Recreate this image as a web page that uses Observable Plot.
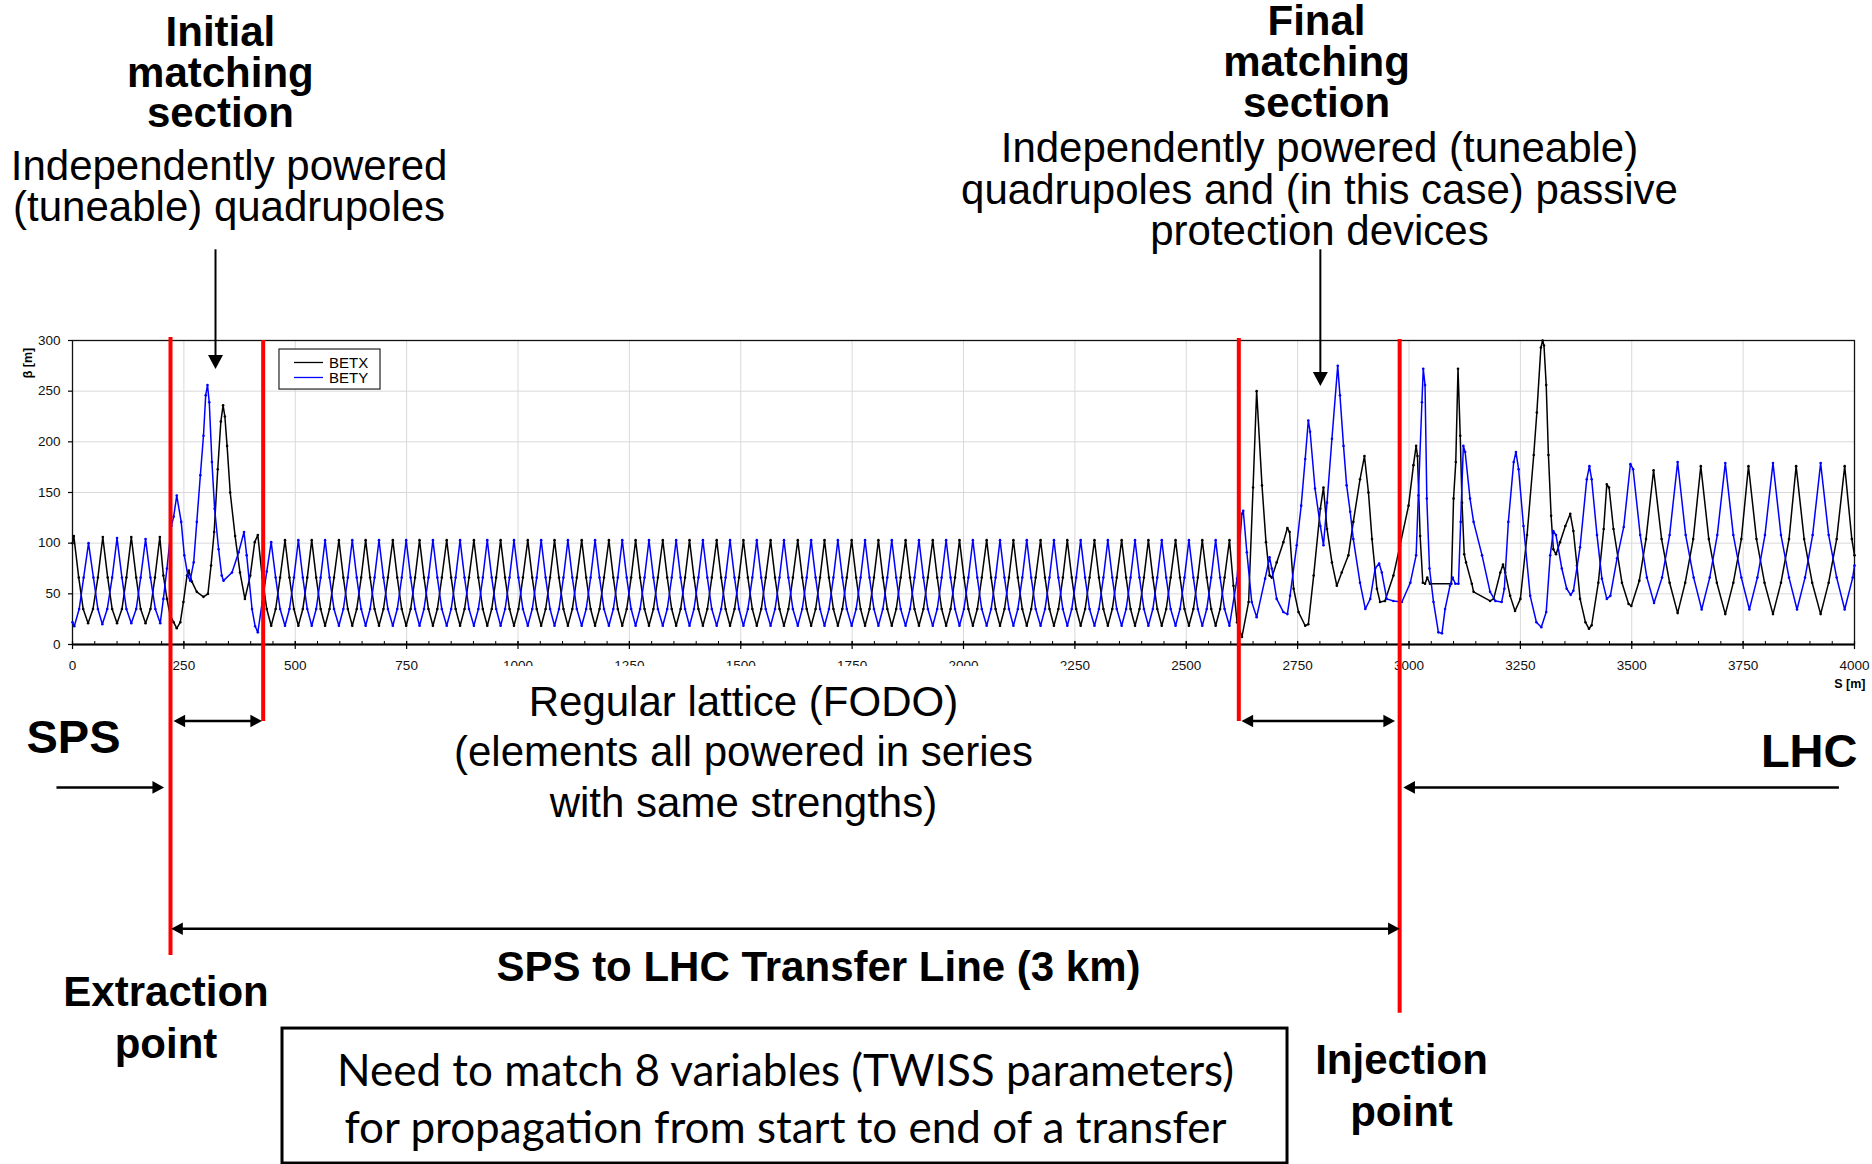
<!DOCTYPE html>
<html>
<head>
<meta charset="utf-8">
<script src="https://cdn.jsdelivr.net/npm/d3@7"></script>
<script src="https://cdn.jsdelivr.net/npm/@observablehq/plot@0.6"></script>
<style>
  html, body { margin: 0; padding: 0; background: #fff; }
  #chart svg { display: block; }
</style>
</head>
<body>
<div id="chart"></div>
<script>
// ---------------- axis ticks ----------------
const xTicks = [0, 250, 500, 750, 1000, 1250, 1500, 1750, 2000, 2250, 2500, 2750, 3000, 3250, 3500, 3750, 4000];
const yTicks = [0, 50, 100, 150, 200, 250, 300];

// ---------------- BETX: SPS side + initial matching section ----------------
const betxPreS = [0,3,14,24,35,46,57,68,79,89, 100,111,121,132,143,153,164,175,185,196,
  204,212,219,227,234,242,249,257,261,268, 279,294,304,311,318,326,333,338,342,347,
  354,365,376,387,399,409];
const betxPreV = [100,107,66,35,21,35,66,106,66,35, 21,35,66,106,66,35,21,35,66,106,
  68,45,29,22,16,22,42,68,73,62, 52,47,50,78,111,173,220,236,225,196,
  150,107,71,45,68,101];

// ---------------- BETY: SPS side + initial matching section ----------------
const betyPreS = [0,4,15,25,36,47,57,67,78,89, 100,111,121,132,143,153,164,175,186,197,
  204,212,222,227,234,244,251,259,264,272, 279,287,294,299,303,307,313,319,328,335,
  339,358,373,385,391,403,410];
const betyPreV = [22,18,35,66,100,66,35,20,35,66, 105,66,35,21,35,66,104,66,35,21,
  45,75,117,126,147,121,88,68,63,81, 121,167,206,246,256,239,180,134,94,68,
  63,71,91,111,88,35,18];

// ---------------- regular FODO lattice (shared s positions) ----------------
const fodoS = [
  416,426,436,446,456,466, 477,487,497,507,517,527, 537,547,557,567,577,587,
  598,608,618,628,638,648, 658,668,678,688,698,708, 719,729,739,749,759,769,
  779,789,799,809,819,829, 840,850,860,870,880,890, 901,911,921,931,941,951,
  961,971,981,991,1001,1011, 1022,1032,1042,1052,1062,1072, 1082,1092,1102,1112,1122,1132,
  1143,1153,1163,1173,1183,1193, 1204,1214,1224,1234,1244,1254, 1264,1274,1284,1294,1304,1314,
  1325,1335,1345,1355,1365,1375, 1385,1395,1405,1415,1425,1435, 1446,1456,1466,1476,1486,1496,
  1506,1516,1526,1536,1546,1556, 1567,1577,1587,1597,1607,1617, 1628,1638,1648,1658,1668,1678,
  1688,1698,1708,1718,1728,1738, 1749,1759,1769,1779,1789,1799, 1809,1819,1829,1839,1849,1859,
  1870,1880,1890,1900,1910,1920, 1931,1941,1951,1961,1971,1981, 1991,2001,2011,2021,2031,2041,
  2052,2062,2072,2082,2092,2102, 2112,2122,2132,2142,2152,2162, 2173,2183,2193,2203,2213,2223,
  2233,2243,2253,2263,2273,2283, 2294,2304,2314,2324,2334,2344, 2355,2365,2375,2385,2395,2405,
  2415,2425,2435,2445,2455,2465, 2476,2486,2496,2506,2516,2526, 2536,2546,2556,2566,2576,2586,
  2597];
const fodoBetx = [
  108,66,35,18.5,35,66, 103,66,35,18.5,35,66, 103,66,35,18.5,35,66,
  103,66,35,18.5,35,66, 103,66,35,18.5,35,66, 103,66,35,18.5,35,66,
  103,66,35,18.5,35,66, 103,66,35,18.5,35,66, 103,66,35,18.5,35,66,
  103,66,35,18.5,35,66, 103,66,35,18.5,35,66, 103,66,35,18.5,35,66,
  103,66,35,18.5,35,66, 103,66,35,18.5,35,66, 103,66,35,18.5,35,66,
  103,66,35,18.5,35,66, 103,66,35,18.5,35,66, 103,66,35,18.5,35,66,
  103,66,35,18.5,35,66, 103,66,35,18.5,35,66, 103,66,35,18.5,35,66,
  103,66,35,18.5,35,66, 103,66,35,18.5,35,66, 103,66,35,18.5,35,66,
  103,66,35,18.5,35,66, 103,66,35,18.5,35,66, 103,66,35,18.5,35,66,
  103,66,35,18.5,35,66, 103,66,35,18.5,35,66, 103,66,35,18.5,35,66,
  103,66,35,18.5,35,66, 103,66,35,18.5,35,66, 103,66,35,18.5,35,66,
  103,66,35,18.5,35,66, 103,66,35,18.5,35,66, 103,66,35,18.5,35,66,
  103];
const fodoBety = [
  12,42,72,101,66,35, 18.5,35,66,103,66,35, 18.5,35,66,103,66,35,
  18.5,35,66,103,66,35, 18.5,35,66,103,66,35, 18.5,35,66,103,66,35,
  18.5,35,66,103,66,35, 18.5,35,66,103,66,35, 18.5,35,66,103,66,35,
  18.5,35,66,103,66,35, 18.5,35,66,103,66,35, 18.5,35,66,103,66,35,
  18.5,35,66,103,66,35, 18.5,35,66,103,66,35, 18.5,35,66,103,66,35,
  18.5,35,66,103,66,35, 18.5,35,66,103,66,35, 18.5,35,66,103,66,35,
  18.5,35,66,103,66,35, 18.5,35,66,103,66,35, 18.5,35,66,103,66,35,
  18.5,35,66,103,66,35, 18.5,35,66,103,66,35, 18.5,35,66,103,66,35,
  18.5,35,66,103,66,35, 18.5,35,66,103,66,35, 18.5,35,66,103,66,35,
  18.5,35,66,103,66,35, 18.5,35,66,103,66,35, 18.5,35,66,103,66,35,
  18.5,35,66,103,66,35, 18.5,35,66,103,66,35, 18.5,35,66,103,66,35,
  18.5,35,66,103,66,35, 18.5,35,66,103,66,35, 18.5,35,66,103,66,35,
  18.5];

// ---------------- BETX: final matching section + LHC ----------------
const betxPostS = [2606,2614,2625,2640,2650,2658,2670,2679,2687,2692, 2703,2718,2727,2732,2741,2752,2767,2774,2786,2801,
  2808,2816,2827,2838,2849,2864,2875,2890,2900,2909, 2917,2928,2935,2946,2965,2980,2999,3010,3016,3019,
  3025,3031,3036,3041,3047,3095,3100,3105,3110,3115, 3119,3124,3128,3141,3145,3182,3190,3205,3211,3216,
  3227,3238,3250,3265,3280,3287,3296,3300,3303,3308, 3313,3319,3324,3330,3339,3351,3362,3369,3377,3384,
  3396,3404,3410,3425,3437,3444,3449,3459,3478,3493, 3499,3517,3532,3549,3567,3585,3603,3620,3638,3655,
  3673,3691,3710,3728,3746,3762,3780,3798,3817,3835, 3853,3869,3887,3905,3924,3942,3960,3978,3994,4000];
const betxPostV = [58,22,7.5,42,155,250,157,101,68,66, 81,101,115,111,55,32,18.5,20,68,134,
  155,114,81,58,71,88,121,163,186,150, 104,55,42,43,68,98,137,177,196,186,
  107,61,60,66,60,60,144,180,272,206, 140,89,81,60,52,43,45,71,79,71,
  48,33,45,108,187,229,293,300,295,256, 187,127,94,89,101,117,129,112,78,45,
  22,15.5,19,61,114,158,155,114,61,40, 38,63,104,172,104,61,31,61,104,176,
  104,61,30,61,104,176,104,61,30,61, 104,176,104,61,30,61,104,176,104,88];

// ---------------- BETY: final matching section + LHC ----------------
const betyPostS = [2614,2625,2628,2636,2647,2658,2677,2687,2692,2703, 2718,2727,2733,2748,2758,2767,2774,2778,2789,2801,
  2808,2816,2827,2840,2845,2853,2860,2868,2875,2890, 2902,2913,2924,2933,2939,2950,2965,2984,3003,3016,
  3021,3029,3032,3036,3040,3046,3055,3066,3074,3081, 3092,3098,3104,3111,3116,3122,3126,3137,3145,3164,
  3182,3194,3208,3214,3223,3235,3240,3246,3257,3272, 3286,3297,3308,3317,3324,3330,3343,3354,3363,3369,
  3384,3399,3405,3410,3422,3433,3444,3452,3467,3482, 3497,3503,3519,3534,3550,3568,3585,3603,3621,3639,
  3657,3675,3692,3710,3728,3746,3764,3782,3799,3817, 3835,3853,3871,3889,3906,3924,3942,3960,3978,3996, 4000];
const betyPostV = [65,129,132,91,42,27,65,86,75,45, 32,30,48,98,137,183,221,210,154,117,
  98,140,203,275,246,196,157,131,104,61, 35,45,75,80,71,45,43,42,61,88,
  147,239,272,256,144,75,42,12,11,35, 58,66,60,60,121,196,190,144,121,88,
  52,43,42,55,121,180,190,173,117,48, 22,17,32,88,112,108,75,55,49,53,
  96,163,176,163,108,65,45,48,85,116, 178,173,108,66,41,66,108,180,108,66,
  34.5,66,108,179,108,66,34.5,66,108,179, 108,66,34.5,66,108,179,108,66,34.5,66, 78];

// ---------------- build tables ----------------
const betxS = [...betxPreS, ...fodoS, ...betxPostS];
const betxV = [...betxPreV, ...fodoBetx, ...betxPostV];
const betyS = [...betyPreS, ...fodoS, ...betyPostS];
const betyV = [...betyPreV, ...fodoBety, ...betyPostV];
const betx = betxS.map((s, i) => ({s, beta: betxV[i]}));
const bety = betyS.map((s, i) => ({s, beta: betyV[i]}));

// ---------------- annotation geometry (in data units: s [m], beta [m]) ----------------
const FONT = "'Liberation Sans', Arial, Helvetica, sans-serif";
const FONT_BOX = "Lato, Carlito, 'Open Sans', sans-serif";
const RED = "#ff0000";
const BLUE = "#0000ff";

const redLines = [
  {s: 220, top: 303, bottom: -307},
  {s: 428, top: 300, bottom: -76},
  {s: 2618, top: 302, bottom: -76},
  {s: 2979, top: 301, bottom: -364}
];
const shafts = [
  {x1: 321, y1: 390, x2: 321, y2: 284, w: 2},
  {x1: 2801, y1: 390, x2: 2801, y2: 267, w: 2},
  {x1: 236, y1: -75.5, x2: 416, y2: -75.5, w: 2.5},
  {x1: 2633, y1: -75.5, x2: 2960, y2: -75.5, w: 2.5},
  {x1: -36, y1: -141, x2: 196, y2: -141, w: 2.5},
  {x1: 3965, y1: -141, x2: 2997, y2: -141, w: 2.5},
  {x1: 231, y1: -280.5, x2: 2970, y2: -280.5, w: 2.5}
];
const headsBig = [
  {s: 321, b: 271.9, a: 90},
  {s: 2801, b: 255.1, a: 90}
];
const headsSmall = [
  {s: 226.7, b: -75.5, a: 180}, {s: 425.4, b: -75.5, a: 0},
  {s: 2624, b: -75.5, a: 180}, {s: 2968.6, b: -75.5, a: 0},
  {s: 205.6, b: -141, a: 0}, {s: 2987.2, b: -141, a: 180},
  {s: 221.5, b: -280.5, a: 180}, {s: 2979.1, b: -280.5, a: 0}
];
const headSymbol = {
  draw(ctx, size) {
    const r = Math.sqrt(size / Math.PI);
    ctx.moveTo(0, 0);
    ctx.lineTo(-1.85 * r, -r);
    ctx.lineTo(-1.85 * r, r);
    ctx.closePath();
  }
};

function label(t, s, b, o) {
  return Plot.text([{t, s, b}], {x: "s", y: "b", text: "t", fontFamily: FONT, fill: "black", ...o});
}

const minorTicks = d3.range(0, 4001, 50);

const chart = Plot.plot({
  width: 1872,
  height: 1164,
  marginLeft: 72,
  marginRight: 18,
  marginTop: 340,
  marginBottom: 520,
  x: {domain: [0, 4000], axis: null},
  y: {domain: [0, 300], axis: null},
  style: {fontFamily: FONT, fontSize: "13px", background: "white", overflow: "visible", maxWidth: "none"},
  marks: [
    // grid
    Plot.ruleX(xTicks, {x: d => d, stroke: "#d9d9d9", strokeWidth: 1}),
    Plot.ruleY(yTicks, {y: d => d, stroke: "#d9d9d9", strokeWidth: 1}),
    Plot.frame({stroke: "#111", strokeWidth: 1.3}),
    // data
    Plot.line(betx, {x: "s", y: "beta", stroke: "black", strokeWidth: 1.5}),
    Plot.dot(betx, {x: "s", y: "beta", r: 1.3, fill: "black", stroke: "none"}),
    Plot.line(bety, {x: "s", y: "beta", stroke: BLUE, strokeWidth: 1.5}),
    Plot.dot(bety, {x: "s", y: "beta", r: 1.3, fill: BLUE, stroke: "none"}),
    // legend
    Plot.rect([{x1: 464.6, x2: 691.4, y1: 251.6, y2: 291.1}], {x1: "x1", x2: "x2", y1: "y1", y2: "y2", fill: "white", stroke: "#222", strokeWidth: 1.2}),
    Plot.ruleY([278.3], {y: d => d, x1: 498.3, x2: 563.4, stroke: "black", strokeWidth: 1.3}),
    Plot.ruleY([263.5], {y: d => d, x1: 498.3, x2: 563.4, stroke: BLUE, strokeWidth: 1.3}),
    label("BETX", 576, 273.1, {textAnchor: "start", lineAnchor: "bottom", fontSize: 15}),
    label("BETY", 576, 258.3, {textAnchor: "start", lineAnchor: "bottom", fontSize: 15}),
    // axes
    Plot.ruleY([0], {y: d => d, stroke: "black", strokeWidth: 2}),
    Plot.ruleX(minorTicks, {x: d => d, y1: 0, y2: 3, stroke: "black", strokeWidth: 1}),
    Plot.ruleX(xTicks, {x: d => d, y1: -5, y2: 3, stroke: "black", strokeWidth: 1.2}),
    Plot.ruleY(yTicks, {y: d => d, x1: -9, x2: 0, stroke: "black", strokeWidth: 1.2}),
    Plot.text(xTicks, {x: d => d, y: 0, text: d => String(d), dy: 16, lineAnchor: "top", fontSize: 13.5, fill: "#111"}),
    Plot.text(yTicks, {x: 0, y: d => d, text: d => String(d), dx: -12, textAnchor: "end", fontSize: 13.5, fill: "#111"}),
    label("S [m]", 4024.7, -43.4, {textAnchor: "end", lineAnchor: "bottom", fontSize: 12.5, fontWeight: "bold"}),
    label("β [m]", -98.8, 277.8, {rotate: -90, fontSize: 12.5, fontWeight: "bold"}),
    // white text-box that hides part of the tick labels (as in the slide)
    Plot.rect([{x1: 837, x2: 2231, y1: -190, y2: -21.7}], {x1: "x1", x2: "x2", y1: "y1", y2: "y2", fill: "white"}),
    // red markers
    Plot.ruleX(redLines, {x: "s", y1: "bottom", y2: "top", stroke: RED, strokeWidth: 4}),
    // arrows
    Plot.link(shafts, {x1: "x1", y1: "y1", x2: "x2", y2: "y2", stroke: "black", strokeWidth: "w"}),
    Plot.dot(headsBig, {x: "s", y: "b", rotate: "a", symbol: headSymbol, r: 7.5, fill: "black", stroke: "none"}),
    Plot.dot(headsSmall, {x: "s", y: "b", rotate: "a", symbol: headSymbol, r: 6.3, fill: "black", stroke: "none"}),
    // text annotations
    label("Initial\nmatching\nsection", 332, 510.2, {fontSize: 42, fontWeight: "bold", lineHeight: 0.976, lineAnchor: "bottom"}),
    label("Independently powered\n(tuneable) quadrupoles", 351.5, 418.4, {fontSize: 42, lineHeight: 0.976, lineAnchor: "bottom"}),
    label("Final\nmatching\nsection", 2792.4, 520.1, {fontSize: 42, fontWeight: "bold", lineHeight: 0.976, lineAnchor: "bottom"}),
    label("Independently powered (tuneable)\nquadrupoles and (in this case) passive\nprotection devices", 2799, 393.8, {fontSize: 42, lineHeight: 0.988, lineAnchor: "bottom"}),
    label("Regular lattice (FODO)\n(elements all powered in series\nwith same strengths)", 1506, -170.7, {fontSize: 42, lineHeight: 1.214, lineAnchor: "bottom"}),
    label("SPS", -103.3, -106.6, {fontSize: 47, fontWeight: "bold", textAnchor: "start", lineAnchor: "bottom"}),
    label("LHC", 4006.7, -120.4, {fontSize: 47, fontWeight: "bold", textAnchor: "end", lineAnchor: "bottom"}),
    label("SPS to LHC Transfer Line (3 km)", 1674.5, -331.6, {fontSize: 42, fontWeight: "bold", lineAnchor: "bottom"}),
    label("Extraction\npoint", 209.9, -407.6, {fontSize: 42, fontWeight: "bold", lineHeight: 1.238, lineAnchor: "bottom"}),
    label("Injection\npoint", 2983.2, -474.7, {fontSize: 42, fontWeight: "bold", lineHeight: 1.238, lineAnchor: "bottom"}),
    // bottom box
    Plot.rect([{x1: 471.4, x2: 2727.3, y1: -512.2, y2: -379}], {x1: "x1", x2: "x2", y1: "y1", y2: "y2", fill: "white", stroke: "black", strokeWidth: 3}),
    label("Need to match 8 variables (TWISS parameters)\nfor propagation from start to end of a transfer", 1600.4, -491.5,
      {fontFamily: FONT_BOX, fontSize: 44, lineHeight: 1.295, lineAnchor: "bottom"})
  ]
});
document.getElementById("chart").appendChild(chart);
</script>
</body>
</html>
